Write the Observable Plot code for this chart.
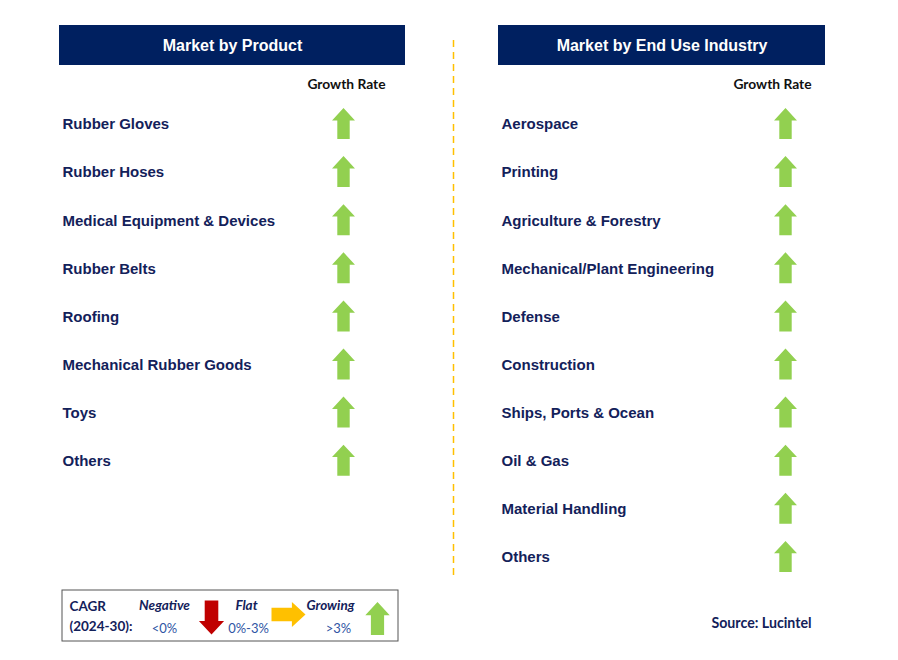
<!DOCTYPE html>
<html><head><meta charset="utf-8">
<script src="https://cdn.jsdelivr.net/npm/d3@7"></script>
<script src="https://cdn.jsdelivr.net/npm/@observablehq/plot@0.6"></script>
<style>body{margin:0;background:#fff}#chart svg{display:block}</style>
</head><body><div id="chart"></div>
<script>
const panelTitles = ["Market by Product", "Market by End Use Industry"];
const growthLabel = "Growth Rate";
const products = ["Rubber Gloves","Rubber Hoses","Medical Equipment & Devices","Rubber Belts","Roofing","Mechanical Rubber Goods","Toys","Others"];
const productTrend = ["up","up","up","up","up","up","up","up"];
const industries = ["Aerospace","Printing","Agriculture & Forestry","Mechanical/Plant Engineering","Defense","Construction","Ships, Ports & Ocean","Oil & Gas","Material Handling","Others"];
const industryTrend = ["up","up","up","up","up","up","up","up","up","up"];
const legendHead = ["CAGR","(2024-30):"];
const legendNames = ["Negative","Flat","Growing"];
const legendRanges = ["<0%","0%-3%",">3%"];
const legendTrend = ["down","flat","up"];
const sourceText = "Source: Lucintel";

const NAVY = "#002060", TEXT = "#13215a";
const trendColor = {up:"#92D050", down:"#C00000", flat:"#FFC000"};
const trendRotate = {up:0, down:180, flat:90};

// block-arrow shape for Plot.vector (drawn pointing up)
const blockArrow = {
  draw(ctx, l) {
    const w = l * 0.74, sw = l * 0.40, hh = l * 0.40;
    ctx.moveTo(-sw/2, 0);
    ctx.lineTo(-sw/2, -l + hh);
    ctx.lineTo(-w/2, -l + hh);
    ctx.lineTo(0, -l);
    ctx.lineTo(w/2, -l + hh);
    ctx.lineTo(sw/2, -l + hh);
    ctx.lineTo(sw/2, 0);
    ctx.closePath();
  }
};

// layout
const panels = [
  {x1: 59, x2: 405, textX: 62, arrowX: 343, growX: 346, items: products, trend: productTrend},
  {x1: 498, x2: 825, textX: 501, arrowX: 785, growX: 772, items: industries, trend: industryTrend}
];
const rowY0 = 124, rowStep = 48.1;

const headers = panels.map((p, i) => ({x1: p.x1, x2: p.x2, y1: 25, y2: 65, title: panelTitles[i]}));
const rows = panels.flatMap(p => p.items.map((name, i) => ({
  name, trend: p.trend[i], tx: p.textX, ax: p.arrowX, y: rowY0 + i * rowStep
})));
const growth = panels.map(p => ({x: p.growX, y: 84, t: growthLabel}));

const legendX = [164, 246, 330];
const legendArrowX = [211, 288, 377];
const legendArrowY = [617, 614, 618];
const legendArrowL = [34, 34, 33];
const legend = legendNames.map((n, i) => ({name: n, range: legendRanges[i], trend: legendTrend[i],
  x: legendX[i], rx: legendX[i] + [0, 2, 8][i], ax: legendArrowX[i], ay: legendArrowY[i], al: legendArrowL[i]}));

const plot = Plot.plot({
  width: 898, height: 660,
  margin: 0,
  x: {domain: [0, 898], range: [0, 898], axis: null},
  y: {domain: [0, 660], range: [0, 660], axis: null},
  length: {type: "identity"},
  style: {background: "#fff"},
  marks: [
    Plot.rect(headers, {x1: "x1", x2: "x2", y1: "y1", y2: "y2", fill: NAVY}),
    Plot.text(headers, {x: d => (d.x1 + d.x2) / 2, y: d => (d.y1 + d.y2) / 2, text: "title",
      fill: "#fff", fontSize: 16, fontWeight: "bold", fontFamily: "Liberation Sans, Arial, sans-serif"}),
    Plot.ruleX([453], {y1: 40, y2: 578, stroke: "#FFC000", strokeWidth: 1.5, strokeDasharray: "7,5"}),
    Plot.text(growth, {x: "x", y: "y", text: "t", fill: "#111", fontSize: 13.8, fontWeight: "bold",
      fontFamily: "Lato, Open Sans, sans-serif"}),
    Plot.text(rows, {x: "tx", y: "y", text: "name", textAnchor: "start", fill: TEXT, fontSize: 15,
      fontWeight: "bold", fontFamily: "Liberation Sans, Arial, sans-serif"}),
    Plot.vector(rows, {x: "ax", y: d => d.y - 1, length: 31, rotate: d => trendRotate[d.trend],
      shape: blockArrow, anchor: "middle", fill: d => trendColor[d.trend], stroke: "none"}),
    // legend
    Plot.rect([{x1: 62, x2: 398, y1: 590, y2: 641}], {x1: "x1", x2: "x2", y1: "y1", y2: "y2",
      fill: "none", stroke: "#555", strokeWidth: 1}),
    Plot.text(legendHead, {x: 69, y: (d, i) => 606 + i * 20, text: d => d, textAnchor: "start",
      fill: TEXT, fontSize: 13.5, fontWeight: "bold", fontFamily: "Lato, Open Sans, sans-serif"}),
    Plot.text(legend, {x: "x", y: 605, text: "name", fill: TEXT, fontSize: 13.5, fontWeight: "bold",
      fontStyle: "italic", fontFamily: "Lato, Open Sans, sans-serif"}),
    Plot.text(legend, {x: "rx", y: 628, text: "range", fill: "#2f55a4", fontSize: 13,
      fontFamily: "Lato, Open Sans, sans-serif"}),
    Plot.vector(legend, {x: "ax", y: "ay", length: "al", rotate: d => trendRotate[d.trend],
      shape: blockArrow, anchor: "middle", fill: d => trendColor[d.trend], stroke: "none"}),
    Plot.text([sourceText], {x: 761, y: 623, text: d => d, fill: TEXT, fontSize: 14.2, fontWeight: "bold",
      fontFamily: "Lato, Open Sans, sans-serif"})
  ]
});
document.getElementById("chart").appendChild(plot);
</script>
</body></html>
